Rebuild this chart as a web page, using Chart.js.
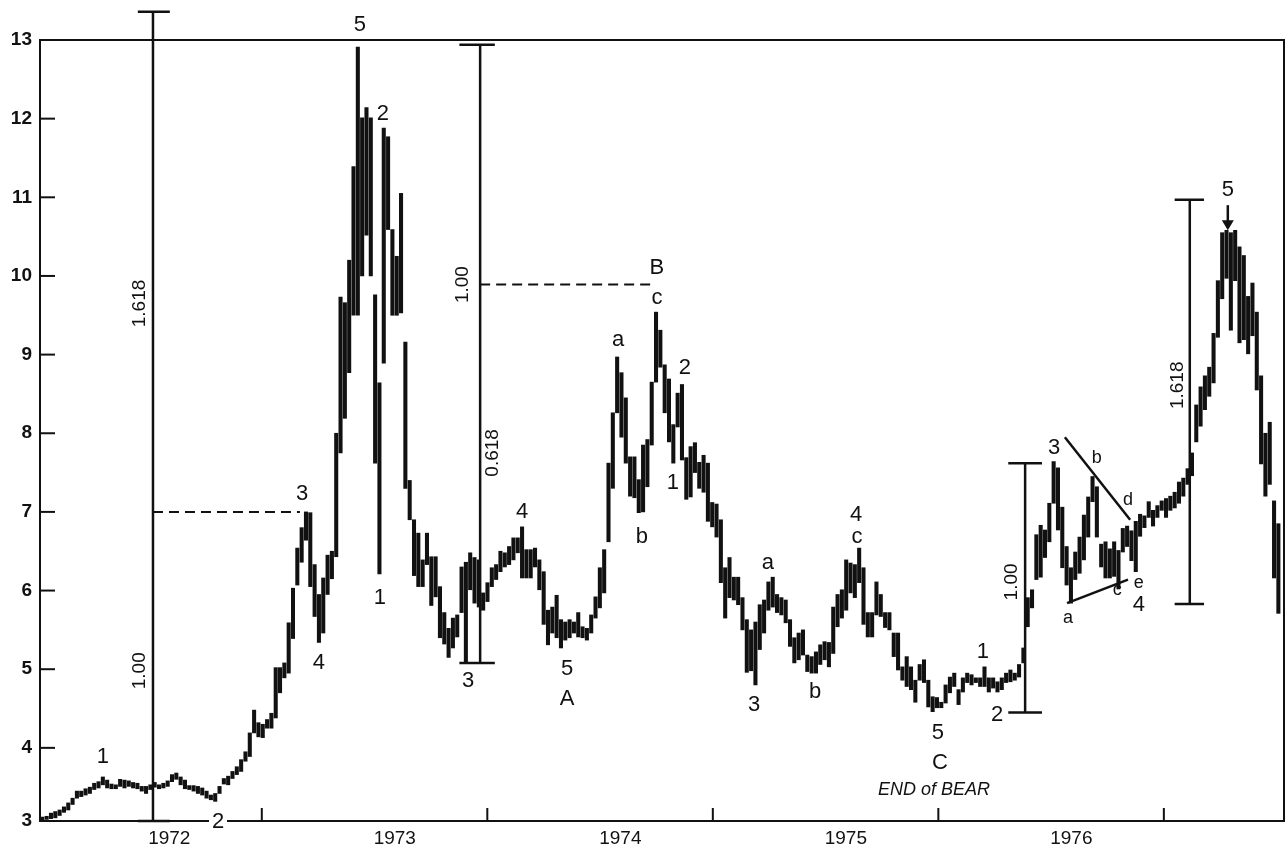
<!DOCTYPE html>
<html><head><meta charset="utf-8">
<script src="https://cdn.jsdelivr.net/npm/chart.js@4.4.1/dist/chart.umd.min.js"></script>
<style>html,body{margin:0;padding:0;background:#fff}canvas{display:block}</style>
</head><body>
<canvas id="c" width="1285" height="852"></canvas>
<script>
// Weekly high / low bars, week index counted from the first week of 1972
const high1972 = [3.12,3.13,3.17,3.19,3.21,3.25,3.30,3.36,3.45,3.45,3.48,3.50,3.55,3.57,3.63,3.59,3.54,3.53,3.60,3.59,3.58,3.56,3.55,3.51,3.51,3.53,3.56,3.53,3.55,3.58,3.66,3.68,3.63,3.59,3.52,3.52,3.51,3.49,3.45,3.40,3.42,3.51,3.61,3.64,3.70,3.76,3.85,3.95,4.19,4.48,4.32];
const low1972  = [3.07,3.09,3.10,3.11,3.14,3.18,3.21,3.28,3.36,3.38,3.40,3.42,3.47,3.49,3.53,3.49,3.48,3.48,3.51,3.49,3.51,3.49,3.48,3.45,3.42,3.47,3.50,3.48,3.49,3.51,3.57,3.60,3.53,3.48,3.47,3.45,3.42,3.40,3.36,3.34,3.32,3.42,3.54,3.53,3.61,3.66,3.70,3.83,3.89,4.19,4.14];
const high1973 = [4.30,4.36,4.44,5.02,5.02,5.08,5.59,6.03,6.54,6.80,7.00,6.99,6.33,5.95,6.16,6.45,6.50,8.00,9.73,9.66,10.20,11.39,12.91,12.01,12.14,12.01,9.76,8.64,11.88,11.77,10.59,10.25,11.05,9.16,7.40,6.90,6.73,6.39,6.73,6.43,6.43,6.05,5.72,5.52,5.65,5.69,6.30,6.36,6.48,6.42,6.39,5.97];
const low1973  = [4.13,4.25,4.25,4.38,4.70,4.89,4.95,5.39,6.07,6.36,6.64,6.05,5.67,5.34,5.46,5.95,6.15,6.43,7.75,8.19,8.77,9.50,9.50,10.00,10.52,10.00,7.62,6.21,8.89,10.59,9.50,9.50,9.53,7.30,6.90,6.19,6.05,6.05,6.33,5.81,5.92,5.40,5.32,5.15,5.27,5.41,5.72,5.08,6.01,5.84,5.79,5.75];
const high1974 = [6.10,6.29,6.33,6.50,6.48,6.56,6.67,6.67,6.81,6.52,6.52,6.54,6.39,6.24,5.75,5.79,5.94,5.63,5.60,5.63,5.60,5.72,5.54,5.52,5.69,5.92,6.29,6.52,7.62,8.26,8.97,8.77,8.45,7.70,7.70,7.41,7.85,7.92,8.65,9.54,9.31,8.87,8.69,8.11,8.51,8.62,7.69,7.83,7.88,7.63,7.72,7.62,7.12];
const low1974  = [5.86,6.05,6.14,6.24,6.30,6.33,6.39,6.48,6.16,6.16,6.16,6.30,6.01,5.57,5.31,5.46,5.40,5.27,5.37,5.40,5.46,5.41,5.40,5.37,5.46,5.65,5.78,5.97,6.62,7.30,8.26,7.95,7.62,7.20,7.18,6.99,7.00,7.32,7.85,8.65,8.84,8.26,7.89,7.62,8.08,7.66,7.16,7.19,7.50,7.30,7.25,6.88,6.81];
const high1975 = [7.10,6.90,6.29,6.42,6.17,6.17,5.91,5.63,5.50,5.60,5.82,5.88,6.11,6.17,5.95,5.91,5.88,5.63,5.40,5.46,5.50,5.18,5.16,5.22,5.31,5.35,5.34,5.79,5.95,6.01,6.39,6.35,6.33,6.54,6.29,5.72,5.72,6.11,5.95,5.72,5.72,5.46,5.46,5.03,5.16,5.03,4.86,5.06,5.12,4.86,4.65,4.64];
const low1975  = [6.68,6.10,5.65,5.91,5.88,5.82,5.50,4.96,4.98,4.80,5.25,5.46,5.75,5.79,5.72,5.69,5.59,5.29,5.08,5.12,5.18,4.97,4.95,4.95,5.06,5.12,5.03,5.20,5.54,5.65,5.75,5.97,5.91,6.10,5.57,5.41,5.41,5.69,5.67,5.53,5.50,5.16,4.99,4.86,4.78,4.74,4.58,4.86,4.83,4.52,4.46,4.51];
const high1976 = [4.58,4.80,4.90,4.95,4.74,4.89,4.95,4.93,4.89,4.89,5.03,4.89,4.89,4.84,4.89,4.95,4.99,4.95,5.06,5.27,5.91,6.01,6.71,6.83,6.77,7.11,7.64,7.56,7.06,6.56,6.29,6.49,6.68,6.96,7.19,7.45,7.32,6.59,6.62,6.53,6.62,6.51,6.79,6.82,6.76,6.88,6.97,6.95,7.13,7.02,7.08,7.14];
const low1976  = [4.51,4.57,4.70,4.78,4.55,4.71,4.83,4.80,4.83,4.78,4.78,4.71,4.76,4.71,4.74,4.83,4.84,4.86,4.90,5.08,5.54,5.78,6.14,6.17,6.42,6.62,7.11,6.77,6.29,6.07,5.84,6.14,6.22,6.39,6.68,7.13,6.68,6.30,6.16,6.16,6.18,6.02,6.49,6.56,6.38,6.24,6.69,6.80,6.93,6.82,6.93,7.02];
const high1977 = [7.17,7.20,7.25,7.38,7.43,7.55,7.75,8.36,8.59,8.73,8.84,9.27,9.94,10.55,10.58,10.55,10.58,10.37,10.26,9.74,9.91,9.54,8.73,8.00,8.14,7.14,6.85];
const low1977  = [6.93,7.02,7.05,7.11,7.20,7.35,7.46,7.89,8.09,8.30,8.47,8.64,9.22,9.71,9.97,9.31,9.94,9.15,9.19,9.01,9.24,8.55,7.61,7.20,7.35,6.16,5.71];

const yearLabels = ['1972','1973','1974','1975','1976'];
const yTickValues = [3.07,4,5,6,7,8,9,10,11,12,13];
const yTickLabels = ['3','4','5','6','7','8','9','10','11','12','13'];
const weeksPerYear = 52.18, jan1972Week = -0.4;
const yearStart = y => (y - 1972) * weeksPerYear + jan1972Week;

// wave labels: text, week, value
const waveLabels = [
 ['1',15.0,3.89],['3',61.1,7.23],['4',65.0,5.08],['5',74.5,13.19],['2',79.8,12.06],['1',79.1,5.91],
 ['3',99.5,4.85],['4',112.0,7.0],['5',122.4,5.0],['A',122.4,4.62],['B',143.2,10.10],['c',143.2,9.72],
 ['a',134.2,9.19],['b',139.7,6.68],['2',149.7,8.83],['1',146.9,7.37],['3',165.7,4.55],['a',168.9,6.35],
 ['b',179.8,4.71],['4',189.3,6.96],['c',189.5,6.68],['1',218.6,5.22],['5',208.2,4.19],['C',208.7,3.81],
 ['2',221.9,4.42],['3',235.1,7.81],['5',275.3,11.09],['4',254.7,5.82]
];
const smallLabels = [['a',238.3,5.65],['b',245.0,7.69],['d',252.2,7.15],['c',249.7,6.01],['e',254.7,6.10]];
const bgLabel = ['2',41.65,3.06];
const noteLabel = ['END of BEAR',207.3,3.47];
const ratioLabels = [['1.618',23.6,9.65],['1.00',23.6,4.98],['1.00',98.3,9.89],['0.618',105.3,7.75],['1.00',225.4,6.11],['1.618',263.8,8.61]];
// measuring brackets: week of line, low value, high value, cap start/end weeks
const brackets = [
 [26.6,3.07,13.36,23.1,30.5],
 [102.3,5.08,12.94,97.5,105.7],
 [228.4,4.45,7.62,224.5,232.3],
 [266.5,5.83,10.97,263.0,269.8]
];
const dashedLines = [[26.6,60.6,7.0],[102.3,142.8,9.89]];
const triangleLines = [[237.6,7.95,252.7,6.90],[238.1,5.84,252.2,6.14]];
const arrow5 = [275.3,10.90,10.58];

const highs = [].concat(high1972,high1973,high1974,high1975,high1976,high1977);
const lows = [].concat(low1972,low1973,low1974,low1975,low1976,low1977);
const bars = highs.map((h,i)=>({x:i+1,y:[lows[i],h]}));

const FONT = '"Liberation Sans", Arial, Helvetica, sans-serif';
const ink = '#111';

const overlay = {
 id:'overlay',
 afterDatasetsDraw(chart){
  const {ctx, chartArea:a, scales:{x,y}} = chart;
  const X = w => x.getPixelForValue(w), Y = v => y.getPixelForValue(v);
  ctx.save();
  ctx.strokeStyle = ink; ctx.fillStyle = ink; ctx.lineCap='butt';
  ctx.lineWidth = 2;
  ctx.strokeRect(a.left, a.top, a.right - a.left, a.bottom - a.top);
  yTickValues.slice(1).forEach(v=>{ctx.beginPath();ctx.moveTo(a.left,Y(v));ctx.lineTo(a.left+15,Y(v));ctx.stroke();});
  for(let yr=1973; yr<=1977; yr++){const px=X(yearStart(yr));ctx.beginPath();ctx.moveTo(px,a.bottom);ctx.lineTo(px,a.bottom-13);ctx.stroke();}
  ctx.lineWidth = 2.5;
  brackets.forEach(([w,lo,hi,c0,c1])=>{
   ctx.beginPath();ctx.moveTo(X(w),Y(lo));ctx.lineTo(X(w),Y(hi));
   ctx.moveTo(X(c0),Y(hi));ctx.lineTo(X(c1),Y(hi));
   ctx.moveTo(X(c0),Y(lo));ctx.lineTo(X(c1),Y(lo));ctx.stroke();
  });
  triangleLines.forEach(([w0,v0,w1,v1])=>{ctx.beginPath();ctx.moveTo(X(w0),Y(v0));ctx.lineTo(X(w1),Y(v1));ctx.stroke();});
  ctx.lineWidth = 2; ctx.setLineDash([10,6]);
  dashedLines.forEach(([w0,w1,v])=>{ctx.beginPath();ctx.moveTo(X(w0),Y(v));ctx.lineTo(X(w1),Y(v));ctx.stroke();});
  ctx.setLineDash([]);
  const ax=X(arrow5[0]), ay0=Y(arrow5[1]), ay1=Y(arrow5[2]);
  ctx.lineWidth=2.5;ctx.beginPath();ctx.moveTo(ax,ay0);ctx.lineTo(ax,ay1-8);ctx.stroke();
  ctx.beginPath();ctx.moveTo(ax-6,ay1-10);ctx.lineTo(ax+6,ay1-10);ctx.lineTo(ax,ay1);ctx.closePath();ctx.fill();
  ctx.textAlign='center'; ctx.textBaseline='middle';
  ctx.font = '22px '+FONT;
  waveLabels.forEach(([t,w,v])=>ctx.fillText(t,X(w),Y(v)));
  {
   const [t,w,v]=bgLabel; const px=X(w),py=Y(v);
   ctx.fillStyle='#fff';ctx.fillRect(px-9,py-11,18,22);ctx.fillStyle=ink;ctx.fillText(t,px,py);
  }
  ctx.font = '18px '+FONT;
  smallLabels.forEach(([t,w,v])=>ctx.fillText(t,X(w),Y(v)));
  ctx.font = 'italic 18px '+FONT;
  ctx.fillText(noteLabel[0],X(noteLabel[1]),Y(noteLabel[2]));
  ctx.font = '19px '+FONT;
  ratioLabels.forEach(([t,w,v])=>{ctx.save();ctx.translate(X(w),Y(v));ctx.rotate(-Math.PI/2);ctx.fillText(t,0,0);ctx.restore();});
  ctx.restore();
 }
};

new Chart(document.getElementById('c'),{
 type:'bar',
 data:{datasets:[{data:bars,backgroundColor:ink,borderWidth:0,barThickness:3.4,grouped:false}]},
 options:{
  responsive:false, animation:false,
  layout:{padding:{top:40,right:1,left:0,bottom:0}},
  plugins:{legend:{display:false},tooltip:{enabled:false}},
  scales:{
   x:{type:'linear',min:0.46,max:288.3,offset:false,
    afterBuildTicks:s=>{s.ticks=yearLabels.map((l,i)=>({value:yearStart(1972+i)}));},
    afterFit:s=>{s.height=31;},
    grid:{display:false,drawTicks:false},border:{display:false},
    ticks:{autoSkip:false,maxRotation:0,labelOffset:133,padding:6,color:ink,font:{family:FONT,size:19},
     callback:(v,i)=>yearLabels[i]}},
   y:{min:3.07,max:13,
    afterBuildTicks:s=>{s.ticks=yTickValues.map(v=>({value:v}));},
    afterFit:s=>{s.width=40;},
    grid:{display:false,drawTicks:false},border:{display:false},
    ticks:{autoSkip:false,padding:8,color:ink,font:{family:FONT,size:19,weight:'bold'},
     callback:(v,i)=>yTickLabels[i]}}
  }
 },
 plugins:[overlay]
});
</script>
</body></html>
